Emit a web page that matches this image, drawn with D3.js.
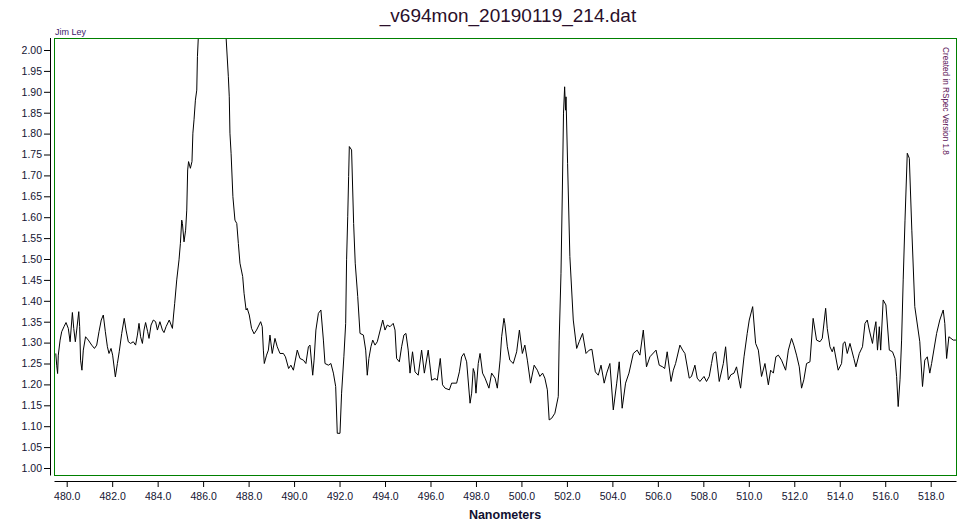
<!DOCTYPE html>
<html>
<head>
<meta charset="utf-8">
<script src="https://cdn.jsdelivr.net/npm/d3@7"></script>
<style>
  body { margin: 0; background: #fff; }
  svg { display: block; font-family: "Liberation Sans", Arial, sans-serif; }
</style>
</head>
<body>
<div id="chart"></div>
<script>
// spectrum (nm, relative flux)
var wavelength = [
  479.52,479.56,479.60,479.63,479.71,479.78,479.88,479.97,480.07,480.15,480.19,480.25,480.31,480.38,480.44,480.53,480.57,480.61,480.67,480.73,
  480.83,480.95,481.10,481.22,481.32,481.42,481.52,481.61,481.70,481.79,481.86,481.95,482.02,482.14,482.23,482.31,482.42,482.53,482.61,482.71,
  482.81,482.93,483.03,483.11,483.18,483.25,483.33,483.40,483.47,483.56,483.62,483.71,483.81,483.91,483.99,484.10,484.21,484.28,484.37,484.51,
  484.65,484.70,484.75,484.84,484.94,485.00,485.06,485.09,485.16,485.23,485.28,485.32,485.36,485.44,485.51,485.55,485.60,485.66,485.72,485.75,
  485.79,485.90,486.05,486.25,486.45,486.65,486.85,487.01,487.11,487.15,487.18,487.23,487.31,487.40,487.48,487.55,
  487.62,487.74,487.80,487.89,487.94,488.03,488.13,488.24,488.35,488.53,488.60,488.65,488.69,488.79,488.87,488.94,489.04,489.16,489.26,489.38,
  489.53,489.62,489.76,489.86,489.97,490.14,490.26,490.41,490.52,490.63,490.70,490.82,490.88,490.96,491.07,491.18,491.29,491.36,491.51,491.62,
  491.73,491.83,491.90,492.02,492.09,492.19,492.27,492.31,492.36,492.40,492.43,492.53,492.62,492.69,492.80,492.90,493.05,493.15,493.22,493.29,
  493.38,493.46,493.56,493.66,493.90,494.00,494.10,494.22,494.36,494.44,494.51,494.63,494.73,494.83,494.92,495.02,495.10,495.21,495.32,495.46,
  495.61,495.73,495.90,496.05,496.20,496.30,496.43,496.53,496.64,496.83,496.93,497.15,497.27,
  497.37,497.47,497.59,497.74,497.81,497.88,497.94,498.00,498.10,498.18,498.29,498.40,498.57,498.69,498.84,498.94,499.06,499.13,499.23,499.27,
  499.38,499.49,499.64,499.79,499.91,500.04,500.15,500.26,500.40,500.56,500.70,500.81,500.93,501.03,501.14,501.22,501.33,501.47,501.62,501.66,
  501.74,501.80,501.85,501.90,501.94,501.96,502.03,502.13,502.28,502.43,502.54,502.69,502.84,502.98,503.10,503.25,503.38,503.50,503.64,503.75,
  503.89,504.04,504.19,504.30,504.43,504.58,504.73,504.92,505.09,505.21,505.36,505.50,505.65,505.92,506.06,
  506.21,506.30,506.41,506.58,506.68,506.78,506.97,507.09,507.19,507.38,507.48,507.63,507.73,507.85,508.03,508.14,508.26,508.36,508.44,508.55,
  508.70,508.88,508.98,509.10,509.21,509.35,509.46,509.64,509.79,509.93,510.02,510.17,510.30,510.42,510.56,510.71,510.86,510.96,511.08,511.19,
  511.30,511.44,511.62,511.74,511.88,511.98,512.10,512.22,512.32,512.42,512.54,512.69,512.83,512.98,513.13,513.23,513.38,513.45,513.57,513.67,
  513.74,513.93,514.08,514.15,514.23,514.33,514.45,514.62,514.71,514.86,
  515.00,515.11,515.21,515.30,515.44,515.52,515.59,515.66,515.74,515.80,515.91,516.03,516.18,516.32,516.43,516.50,516.57,516.65,516.72,516.79,
  516.87,516.97,517.06,517.17,517.30,517.52,517.64,517.74,517.85,517.96,518.04,518.26,518.40,518.55,518.62,518.70,518.80,518.99,519.11
];
var flux = [
  1.274,1.246,1.226,1.270,1.306,1.326,1.338,1.348,1.334,1.302,1.330,1.372,1.334,1.302,1.330,1.374,1.338,1.258,1.234,1.282,
  1.314,1.306,1.294,1.286,1.294,1.326,1.354,1.366,1.326,1.290,1.274,1.286,1.270,1.218,1.250,1.278,1.322,1.358,1.330,1.302,
  1.298,1.302,1.294,1.318,1.346,1.314,1.298,1.330,1.348,1.326,1.310,1.342,1.354,1.350,1.330,1.350,1.330,1.324,1.338,1.354,
  1.334,1.366,1.394,1.450,1.498,1.537,1.593,1.585,1.541,1.569,1.617,1.713,1.733,1.717,1.733,1.801,1.833,1.880,1.904,1.984,
  2.032,2.20,2.40,2.55,2.58,2.45,2.22,2.03,1.936,1.888,1.801,1.753,1.649,1.593,1.585,1.537,
  1.490,1.458,1.418,1.378,1.382,1.366,1.334,1.321,1.330,1.350,1.338,1.282,1.250,1.270,1.282,1.318,1.274,1.310,1.290,1.274,
  1.274,1.266,1.238,1.246,1.234,1.282,1.262,1.258,1.250,1.290,1.294,1.222,1.258,1.330,1.370,1.378,1.306,1.250,1.246,1.250,
  1.227,1.195,1.083,1.083,1.179,1.266,1.346,1.498,1.601,1.697,1.769,1.761,1.585,1.490,1.410,1.322,1.318,1.282,1.222,1.262,
  1.290,1.306,1.294,1.302,1.354,1.330,1.342,1.338,1.346,1.330,1.262,1.254,1.290,1.318,1.322,1.282,1.227,1.278,1.230,1.222,
  1.282,1.227,1.282,1.210,1.214,1.210,1.262,1.199,1.191,1.187,1.203,1.203,1.230,
  1.266,1.274,1.254,1.155,1.179,1.238,1.227,1.179,1.250,1.274,1.227,1.215,1.191,1.227,1.215,1.191,1.258,1.314,1.358,1.346,
  1.290,1.258,1.250,1.278,1.330,1.274,1.294,1.258,1.203,1.246,1.234,1.219,1.227,1.215,1.187,1.115,1.119,1.131,1.171,1.306,
  1.466,1.665,1.849,1.912,1.856,1.888,1.729,1.506,1.354,1.286,1.302,1.322,1.274,1.282,1.284,1.230,1.222,1.246,1.203,1.227,
  1.250,1.139,1.203,1.254,1.143,1.203,1.227,1.274,1.282,1.270,1.330,1.242,1.266,1.282,1.246,
  1.242,1.238,1.278,1.207,1.234,1.250,1.294,1.282,1.274,1.215,1.219,1.246,1.215,1.207,1.219,1.207,1.219,1.250,1.274,1.278,
  1.207,1.250,1.290,1.211,1.223,1.227,1.242,1.191,1.266,1.322,1.354,1.386,1.298,1.282,1.219,1.250,1.199,1.234,1.227,1.266,
  1.270,1.258,1.234,1.282,1.310,1.294,1.270,1.242,1.191,1.211,1.250,1.254,1.358,1.306,1.302,1.310,1.382,1.334,1.290,1.278,
  1.290,1.234,1.250,1.298,1.302,1.274,1.298,1.262,1.242,1.274,
  1.290,1.346,1.354,1.330,1.298,1.330,1.350,1.282,1.338,1.282,1.402,1.390,1.282,1.278,1.262,1.219,1.147,1.211,1.306,1.450,
  1.593,1.753,1.741,1.569,1.386,1.302,1.195,1.258,1.266,1.227,1.250,1.322,1.354,1.378,1.346,1.262,1.314,1.306,1.306
];
var xTicks = d3.range(480, 519, 2);
var yTicks = d3.range(0, 21).map(function (i) { return 1 + i * 0.05; });
var title = "_v694mon_20190119_214.dat";

var width = 958, height = 524;
var box = { left: 54.5, top: 38.5, right: 956.5, bottom: 475.5 };

var svg = d3.select("#chart").append("svg")
    .attr("width", width)
    .attr("height", height);

svg.append("rect").attr("width", width).attr("height", height).attr("fill", "#fff");

var x = d3.scaleLinear().domain([480, 518]).range([66.7, 930.7]);
var y = d3.scaleLinear().domain([1, 2]).range([468, 50]);

// title + captions
svg.append("text")
    .attr("x", 508).attr("y", 22)
    .attr("text-anchor", "middle")
    .style("font-size", "19px")
    .style("fill", "#2a0f2a")
    .text(title);

svg.append("text")
    .attr("x", 55).attr("y", 35)
    .style("font-size", "9px")
    .style("fill", "#3a1a6a")
    .text("Jim Ley");

svg.append("text")
    .attr("transform", "translate(943,47) rotate(90)")
    .style("font-size", "8.2px")
    .style("fill", "#5c1458")
    .text("Created in RSpec Version 1.8");

// y axis
var yAxis = svg.append("g")
    .attr("transform", "translate(50,0)")
    .call(d3.axisLeft(y).tickValues(yTicks).tickFormat(d3.format(".2f")).tickSize(6).tickPadding(2));
yAxis.select(".domain").remove();
yAxis.selectAll("text").style("font-size", "10.5px").style("fill", "#141432").style("font-family", "'Liberation Sans', Arial, sans-serif");
svg.append("line")
    .attr("x1", 50.5).attr("x2", 50.5).attr("y1", box.top - 0.5).attr("y2", box.bottom)
    .attr("stroke", "#000");

// x axis
var xAxis = svg.append("g")
    .attr("transform", "translate(0,481)")
    .call(d3.axisBottom(x).tickValues(xTicks).tickFormat(d3.format(".1f")).tickSize(6).tickPadding(6));
xAxis.select(".domain").remove();
xAxis.selectAll("text").style("font-size", "10.5px").style("fill", "#141432").style("font-family", "'Liberation Sans', Arial, sans-serif");
svg.append("line")
    .attr("x1", box.left).attr("x2", box.right).attr("y1", 481.5).attr("y2", 481.5)
    .attr("stroke", "#000");

svg.append("text")
    .attr("x", 505).attr("y", 519)
    .attr("text-anchor", "middle")
    .style("font-size", "12.5px")
    .style("font-weight", "bold")
    .style("fill", "#101030")
    .text("Nanometers");

// plot frame + spectrum
svg.append("clipPath").attr("id", "plotclip")
  .append("rect")
    .attr("x", box.left).attr("y", box.top)
    .attr("width", box.right - box.left).attr("height", box.bottom - box.top);

var line = d3.line()
    .x(function (d, i) { return x(wavelength[i]); })
    .y(function (d) { return y(d); });

svg.append("path")
    .datum(flux)
    .attr("clip-path", "url(#plotclip)")
    .attr("d", line)
    .attr("fill", "none")
    .attr("stroke", "#000")
    .attr("stroke-width", 1);

svg.append("rect")
    .attr("x", box.left).attr("y", box.top)
    .attr("width", box.right - box.left).attr("height", box.bottom - box.top)
    .attr("fill", "none")
    .attr("stroke", "#008000")
    .attr("stroke-width", 1);
</script>
</body>
</html>
